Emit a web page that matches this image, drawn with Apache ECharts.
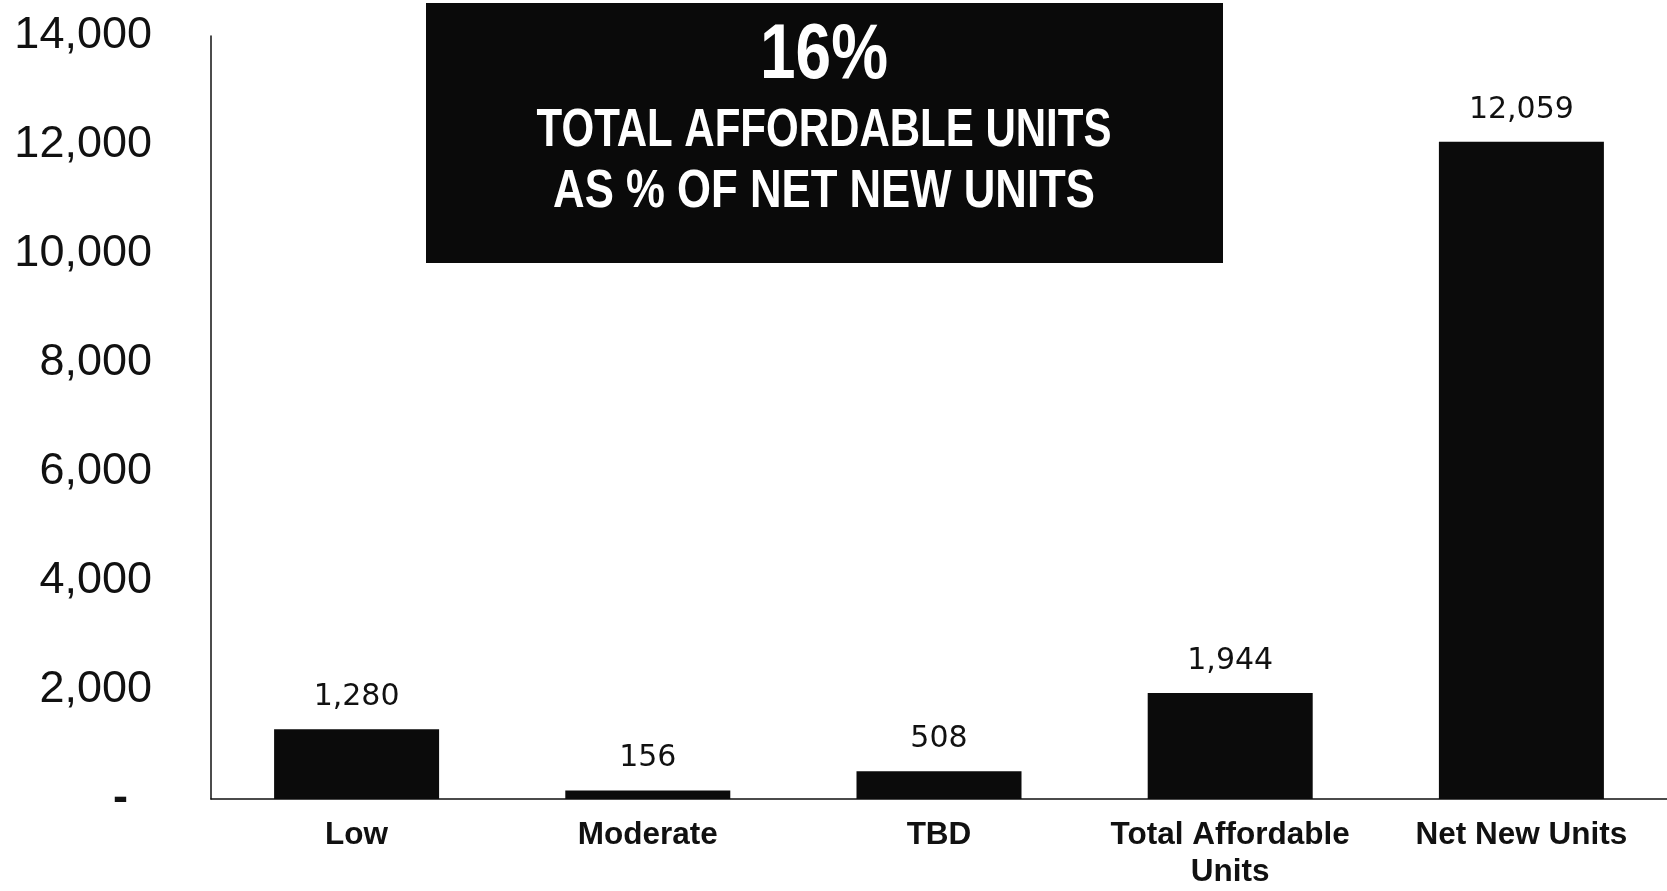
<!DOCTYPE html>
<html>
<head>
<meta charset="utf-8">
<title>Affordable units</title>
<script src="https://cdn.jsdelivr.net/npm/echarts@6/dist/echarts.min.js"></script>
<style>
  html, body { margin: 0; padding: 0; background: #fff; overflow: hidden; }
  #echart { width: 1667px; height: 891px; }
</style>
</head>
<body>
<div id="echart"></div>
<script>
// chart data
const categories = ['Low', 'Moderate', 'TBD', 'Total Affordable\nUnits', 'Net New Units']
const units = [1280, 156, 508, 1944, 12059]
const yMin = 0
const yMax = 14000
const yStep = 2000
// callout box text
const calloutLines = ['16%', 'TOTAL AFFORDABLE UNITS', 'AS % OF NET NEW UNITS']

const fontFamily = '"Liberation Sans", Arial, Helvetica, sans-serif'
const labelFont = '"DejaVu Sans", "Liberation Sans", Arial, sans-serif'

function fmt(v) {
  return v.toLocaleString('en-US')
}

// white condensed text in the callout box
function boxText(text, y, size, sx) {
  return {
    type: 'text',
    x: 824,
    y: y,
    scaleX: sx,
    z: 11,
    style: {
      text: text,
      fill: '#fff',
      font: 'bold ' + size + 'px ' + fontFamily,
      align: 'center',
      textAlign: 'center',
      verticalAlign: 'middle',
      textVerticalAlign: 'middle'
    }
  }
}

const myChart = echarts.init(document.getElementById('echart'))
myChart.setOption({
  backgroundColor: '#fff',
  animation: false,
  grid: {
    left: 211,
    right: -3,
    top: 36,
    bottom: 90,
    containLabel: false
  },
  xAxis: {
    type: 'category',
    data: categories,
    axisLine: { show: true, lineStyle: { color: '#111', width: 1.5 } },
    axisTick: { show: false },
    axisLabel: {
      color: '#111',
      fontFamily: fontFamily,
      fontWeight: 'bold',
      fontSize: 31.5,
      lineHeight: 37,
      margin: 18,
      interval: 0
    }
  },
  yAxis: {
    type: 'value',
    min: yMin,
    max: yMax,
    interval: yStep,
    splitLine: { show: false },
    axisTick: { show: false },
    axisLine: { show: true, lineStyle: { color: '#111', width: 1.5 } },
    axisLabel: {
      color: '#111',
      fontFamily: fontFamily,
      fontSize: 45,
      margin: 59,
      formatter: v => (v === 0 ? '{d|-}' : fmt(v)),
      rich: {
        d: { fontFamily: fontFamily, fontWeight: 'bold', fontSize: 45, color: '#111', padding: [0, 24, 0, 0] }
      }
    }
  },
  series: [
    {
      name: 'Units',
      type: 'bar',
      data: units,
      barWidth: 165,
      itemStyle: { color: '#0b0b0b' },
      label: {
        show: true,
        position: 'top',
        distance: 17,
        color: '#111',
        fontFamily: labelFont,
        fontSize: 30,
        formatter: p => fmt(p.value)
      }
    }
  ],
  graphic: [
    {
      type: 'rect',
      shape: { x: 426, y: 3, width: 797, height: 260 },
      style: { fill: '#0a0a0a' },
      z: 10
    },
    boxText(calloutLines[0], 57, 77, 0.83),
    boxText(calloutLines[1], 131, 54, 0.778),
    boxText(calloutLines[2], 192, 54, 0.81)
  ]
})
window.onresize = function() {
  myChart.resize()
}
</script>
</body>
</html>
